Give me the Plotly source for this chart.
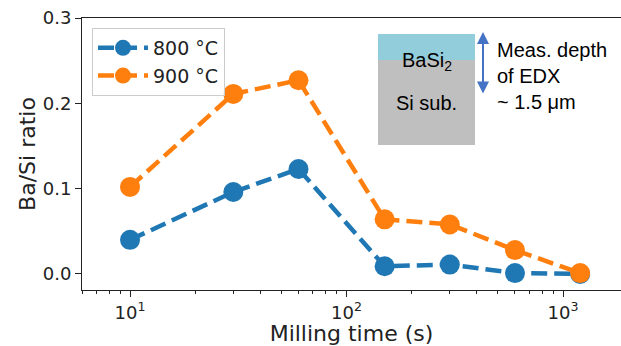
import plotly.graph_objects as go
import numpy as np

time_s = [10, 30, 60, 150, 300, 600, 1200]
ratio_800 = [0.040, 0.096, 0.123, 0.009, 0.011, 0.001, 0.000]
ratio_900 = [0.102, 0.211, 0.227, 0.064, 0.058, 0.028, 0.001]
series_names = ["800 °C", "900 °C"]
colors = ["#1f77b4", "#ff7f0e"]
ytick_vals = [0.0, 0.1, 0.2, 0.3]
xtick_vals = [10, 100, 1000]
xtick_text = ["10<sup>1</sup>", "10<sup>2</sup>", "10<sup>3</sup>"]

W, H = 621, 346
L, R, T, B = 82, 0, 18, 56
pw, ph = W - L - R, H - T - B

def px(x):
    return (x - L) / pw

def py(y):
    return (H - B - y) / ph

fig = go.Figure()
for name, vals, c in zip(series_names, [ratio_800, ratio_900], colors):
    fig.add_trace(go.Scatter(
        x=time_s, y=vals, name=name, mode="lines+markers",
        line=dict(color=c, width=4.5, dash="16px,7px"),
        marker=dict(color=c, size=20),
    ))

minor_vals = [m * 10 ** e for e in range(0, 4) for m in range(2, 10)]

font = "DejaVu Sans"
fig.update_layout(
    width=W, height=H,
    margin=dict(l=L, r=R, t=T, b=B),
    plot_bgcolor="white", paper_bgcolor="white",
    font=dict(family=font, size=18, color="#222"),
    showlegend=True,
    legend=dict(
        x=px(92), y=py(28), xanchor="left", yanchor="top",
        bordercolor="#cccccc", borderwidth=1, bgcolor="rgba(255,255,255,0.8)",
        font=dict(size=19, family=font), itemwidth=50, tracegroupgap=0,
    ),
    xaxis=dict(
        type="log", range=[np.log10(6), 3 + 58 / 216.5],
        tickvals=xtick_vals, ticktext=xtick_text,
        ticks="outside", ticklen=6, tickwidth=1, tickcolor="#222",
        showline=True, linecolor="#222", linewidth=1, mirror=True,
        showgrid=False, zeroline=False,
        minor=dict(tickvals=minor_vals, ticks="outside", ticklen=3, tickcolor="#222", showgrid=False),
        title=dict(text="Milling time (s)", font=dict(size=22), standoff=8),
        tickfont=dict(size=18),
    ),
    yaxis=dict(
        range=[-0.0188, 0.3],
        tickvals=ytick_vals, ticktext=[f"{v:.1f}" for v in ytick_vals],
        ticks="outside", ticklen=6, tickwidth=1, tickcolor="#222",
        showline=True, linecolor="#222", linewidth=1, mirror=False,
        showgrid=False, zeroline=False,
        title=dict(text="Ba/Si ratio", font=dict(size=22), standoff=1),
        tickfont=dict(size=18),
    ),
)

# inset schematic
fig.add_shape(type="rect", xref="paper", yref="paper",
              x0=px(378), x1=px(475), y0=py(145), y1=py(60),
              fillcolor="#bfbfbf", line=dict(width=0), layer="above")
fig.add_shape(type="rect", xref="paper", yref="paper",
              x0=px(378), x1=px(475), y0=py(60), y1=py(34),
              fillcolor="#92cddc", line=dict(width=0), layer="above")
ifont = dict(family="Liberation Sans", size=20, color="black")
fig.add_annotation(xref="paper", yref="paper", x=px(426.5), y=py(47),
                   text="BaSi<sub>2</sub>", showarrow=False, font=ifont)
fig.add_annotation(xref="paper", yref="paper", x=px(426.5), y=py(90),
                   text="Si sub.", showarrow=False, font=ifont)
fig.add_annotation(xref="paper", yref="paper", x=px(483), y=py(32),
                   ax=0, ay=63, axref="pixel", ayref="pixel", text="",
                   showarrow=True, arrowside="end+start", arrowhead=2,
                   arrowsize=1.2, arrowwidth=2, arrowcolor="#4472c4")
fig.add_annotation(xref="paper", yref="paper", x=px(495), y=py(76),
                   xanchor="left", yanchor="middle", align="left",
                   text="Meas. depth<br>of EDX<br>~ 1.5 μm", showarrow=False,
                   font=ifont)

fig.write_html("out.html")
